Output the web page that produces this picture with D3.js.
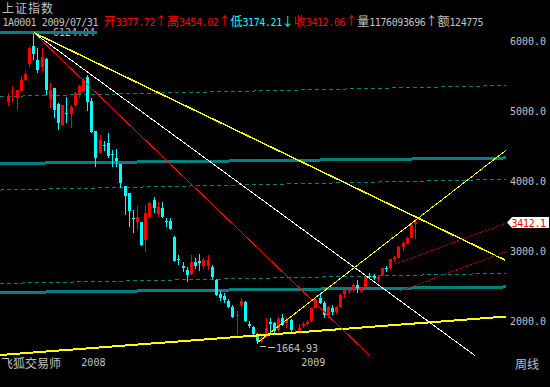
<!DOCTYPE html>
<html>
<head>
<meta charset="utf-8">
<script src="https://cdn.jsdelivr.net/npm/d3@7"></script>
<style>
body { margin: 0; background: #000; }
svg { display: block; }
</style>
</head>
<body>
<div id="chart"></div>
<script>
// weekly candles, 1A0001, 2007/08/31 .. 2009/07/31
var opens = [5129,5250,5186,5286,5447,5676,5929,5733,5624,5743,
  5171,5329,5100,4804,4970,4957,5081,5247,5286,5486,
  5150,4714,4404,4510,4547,4390,4330,4243,3929,3829,
  3471,3414,3414,3167,3490,3729,3538,3610,3430,3430,
  3204,2880,2790,2730,2671,2840,2860,2790,2780,2776,
  2586,2380,2360,2290,2205,2070,2229,2267,1960,1919,
  1800,1720,1800,1990,1967,1871,2038,1960,2014,1830,
  1850,1930,1955,2000,2190,2330,2260,2080,2190,2130,
  2200,2380,2440,2450,2520,2440,2480,2650,2640,2600,
  2650,2760,2750,2880,2910,3060,3110,3190,3377.72];
var highs = [5257,5357,5300,5500,5571,5914,6124.04,5900,5900,5760,
  5400,5329,5114,5090,5200,5090,5271,5371,5471,5519,
  5190,4720,4657,4571,4686,4443,4457,4250,3935,3835,
  3586,3643,3420,3657,3704,3776,3704,3704,3467,3467,
  3210,2943,2847,2776,2943,2900,2960,2900,2950,2800,
  2600,2430,2400,2310,2230,2150,2330,2280,2000,1935,
  1830,1800,2040,2038,1990,2060,2100,2060,2030,1870,
  1960,1990,2010,2190,2330,2400,2290,2220,2230,2220,
  2380,2460,2490,2540,2580,2490,2640,2690,2670,2660,
  2760,2790,2890,2930,3070,3140,3200,3380,3454.02];
var lows = [5071,5129,5014,5280,5429,5629,5729,5543,5571,5233,
  5043,4900,4733,4786,4830,4757,5057,5186,5271,5000,
  4680,4200,4400,4433,4329,4200,4200,3900,3514,3343,
  3257,3300,3076,2990,3467,3538,3490,3467,3338,3300,
  2850,2800,2704,2561,2660,2740,2720,2740,2730,2600,
  2360,2280,2260,2190,2040,1802,2180,1980,1900,1800,
  1664.93,1680,1776,1848,1830,1850,1930,1900,1850,1815,
  1840,1900,1930,1990,2180,2240,2040,2040,2090,2100,
  2190,2330,2390,2420,2400,2400,2460,2600,2580,2560,
  2640,2700,2730,2850,2900,3000,3100,3180,3174.21];
var closes = [5214,5270,5300,5443,5533,5900,5814,5590,5771,5304,
  5304,5019,4829,5086,4955,5057,5257,5357,5447,5129,
  4710,4329,4586,4490,4357,4370,4290,3971,3786,3571,
  3450,3490,3086,3547,3690,3610,3633,3476,3410,3310,
  2861,2860,2760,2657,2847,2780,2830,2870,2870,2633,
  2371,2330,2310,2205,2062,2080,2290,1990,1935,1824,
  1715,1760,1895,1967,1848,2024,1943,2010,1871,1850,
  1900,1955,1990,2181,2320,2260,2082,2194,2128,2198,
  2374,2444,2444,2513,2474,2477,2627,2630,2610,2633,
  2753,2743,2880,2910,3060,3114,3189,3372,3412.06];

var priceTicks = [2000, 3000, 4000, 5000, 6000];
var yearTicks = [17, 70];
var yearLabels = ["2008", "2009"];
var volume = "1176093696";
var amount = "124775";

// drawn lines: [index, price] end points
var tealThick = [
  [[-2, 6124.04], [21.4, 6124.04]],
  [[-2, 4250], [120, 4329]],
  [[-2, 2407], [120, 2486]]
];
var tealDashed = [
  [[-2, 5207], [120, 5364]],
  [[-2, 3871], [120, 4024]],
  [[-2, 2536], [120, 2681]]
];
var fanYellow = [[6, 6124.04], [119.7, 2871]];
var fanWhite = [[6, 6124.04], [112.5, 1504]];
var fanRed = [[6, 6124.04], [87.2, 1500]];
var riseYellow = [[60, 1690], [120, 4443]];
var baseYellow = [[-2, 1514], [120, 2064]];
var darkRed = [
  [[93.2, 2814], [120, 3400]],
  [[94.4, 2429], [120, 2993]]
];

var W = 550, H = 387;
var N = closes.length;
var gray = "#c0c0c0", up = "#ff0000", down = "#00ffff", teal = "#008080";
var mono = "'DejaVu Sans Mono', monospace";
var cjk = "'Noto Sans CJK SC', sans-serif";

var svg = d3.select("#chart").append("svg")
    .attr("width", W)
    .attr("height", H)
    .style("background", "#000");

var x = d3.scaleLinear().domain([0, N - 1]).range([8.3, 8.3 + (N - 1) * 4.15]);
var y = d3.scaleLinear().domain([2000, 6000]).range([321, 41]);

var line = d3.line()
    .x(function(d) { return x(d[0]); })
    .y(function(d) { return y(d[1]); });

var plot = svg.append("g");

// peak label, partly under the band
plot.append("text")
    .attr("x", 53)
    .attr("y", y(6124.04) + 4)
    .attr("fill", gray)
    .attr("font-family", mono)
    .attr("font-size", "10px")
    .text(d3.format(".2f")(d3.max(highs)));

plot.selectAll(".dash").data(tealDashed).enter().append("path")
    .attr("d", line)
    .attr("stroke", teal)
    .attr("stroke-width", 1)
    .attr("stroke-dasharray", "4,3")
    .attr("shape-rendering", "crispEdges")
    .attr("fill", "none");

plot.selectAll(".thick").data(tealThick).enter().append("path")
    .attr("d", line)
    .attr("stroke", teal)
    .attr("stroke-width", 3)
    .attr("shape-rendering", "crispEdges")
    .attr("fill", "none");

// candles
var idx = d3.range(N);
var cx = function(i) { return Math.round(x(i)); };

plot.selectAll(".wick").data(idx).enter().append("line")
    .attr("x1", function(i) { return cx(i) + 0.5; })
    .attr("x2", function(i) { return cx(i) + 0.5; })
    .attr("y1", function(i) { return y(highs[i]); })
    .attr("y2", function(i) { return y(lows[i]); })
    .attr("stroke", function(i) { return closes[i] >= opens[i] ? up : down; })
    .attr("stroke-width", 1)
    .attr("shape-rendering", "crispEdges");

plot.selectAll(".body").data(idx).enter().append("rect")
    .attr("x", function(i) { return cx(i) - 1; })
    .attr("width", 3)
    .attr("y", function(i) { return Math.round(y(Math.max(opens[i], closes[i]))); })
    .attr("height", function(i) {
        return Math.max(1, Math.round(Math.abs(y(opens[i]) - y(closes[i]))));
    })
    .attr("fill", function(i) { return closes[i] >= opens[i] ? up : down; })
    .attr("shape-rendering", "crispEdges");

// trend lines
function trend(pts, color, w, dash) {
    plot.append("path").attr("d", line(pts))
        .attr("stroke", color)
        .attr("stroke-width", w)
        .attr("stroke-dasharray", dash || null)
        .attr("shape-rendering", "crispEdges")
        .attr("fill", "none");
}
trend(baseYellow, "#ffff00", 2);
trend(fanYellow, "#ffff00", 1.5);
trend(fanWhite, "#ffffff", 1);
trend(fanRed, "#ff0000", 1);
trend(riseYellow, "#ffff00", 1);
darkRed.forEach(function(d) { trend(d, "#a00000", 1, "2,1"); });

// low label
var lowI = d3.minIndex(lows);
plot.append("path")
    .attr("d", "M" + (cx(lowI) + 3) + "," + (Math.round(y(lows[lowI])) + 2.5) + "h6m2,1h7")
    .attr("stroke", gray)
    .attr("shape-rendering", "crispEdges")
    .attr("fill", "none");
plot.append("text")
    .attr("x", cx(lowI) + 19)
    .attr("y", y(lows[lowI]) + 8)
    .attr("fill", gray)
    .attr("font-family", mono)
    .attr("font-size", "10px")
    .text(d3.format(".2f")(lows[lowI]));

// right axis
var yAxis = svg.append("g")
    .attr("transform", "translate(510,0)")
    .call(d3.axisRight(y).tickValues(priceTicks).tickSize(0).tickPadding(0)
        .tickFormat(d3.format(".1f")));
yAxis.select(".domain").remove();
yAxis.selectAll("text")
    .attr("fill", gray)
    .attr("font-family", mono)
    .attr("font-size", "10px");

// last price tag
var last = closes[N - 1];
var ty = Math.round(y(last)) + 0.5;
svg.append("path")
    .attr("d", "M507," + ty + "L512," + (ty - 5.5) + "H549V" + (ty + 5.5) + "H512Z")
    .attr("fill", "#ffffff");
svg.append("text")
    .attr("x", 511.5)
    .attr("y", ty + 4)
    .attr("fill", up)
    .attr("font-family", mono)
    .attr("font-size", "10px")
    .attr("letter-spacing", "-0.3px")
    .text(d3.format(".1f")(last));

// bottom axis
var xAxis = svg.append("g")
    .attr("transform", "translate(0,359)")
    .call(d3.axisBottom(x).tickValues(yearTicks).tickSize(0).tickPadding(0)
        .tickFormat(function(d, i) { return yearLabels[i]; }));
xAxis.select(".domain").remove();
xAxis.selectAll("text")
    .attr("text-anchor", "start")
    .attr("dx", 2)
    .attr("fill", gray)
    .attr("font-family", mono)
    .attr("font-size", "10px");

svg.append("text")
    .attr("x", 1)
    .attr("y", 368)
    .attr("fill", gray)
    .attr("font-family", cjk)
    .attr("font-size", "12px")
    .text("飞狐交易师");

svg.append("text")
    .attr("x", 515)
    .attr("y", 369)
    .attr("fill", gray)
    .attr("font-family", cjk)
    .attr("font-size", "12px")
    .text("周线");

// header
svg.append("text")
    .attr("x", 2)
    .attr("y", 13)
    .attr("fill", gray)
    .attr("font-family", cjk)
    .attr("font-size", "12px")
    .attr("letter-spacing", "1px")
    .text("上证指数");

var f2 = d3.format(".2f");
var parts = [
    ["1A0001 2009/07/31 ", gray, mono],
    ["开", up, cjk], [f2(opens[N - 1]), up, mono], ["↑", up, cjk],
    ["高", up, cjk], [f2(highs[N - 1]), up, mono], ["↑", up, cjk],
    ["低", down, cjk], [f2(lows[N - 1]), down, mono], ["↓", down, cjk],
    ["收", up, cjk], [f2(closes[N - 1]), up, mono], ["↑", up, cjk],
    ["量", gray, cjk], [volume, gray, mono], ["↑", gray, cjk],
    ["额", gray, cjk], [amount, gray, mono]
];
var head = svg.append("text")
    .attr("x", 2.5)
    .attr("y", 26);
head.selectAll("tspan").data(parts).enter().append("tspan")
    .attr("fill", function(d) { return d[1]; })
    .attr("font-family", function(d) { return d[2]; })
    .attr("font-size", function(d) { return d[2] == mono ? "10px" : "12px"; })
    .attr("letter-spacing", function(d) { return d[2] == mono ? "-0.4px" : "0px"; })
    .style("white-space", "pre")
    .text(function(d) { return d[0]; });
</script>
</body>
</html>
